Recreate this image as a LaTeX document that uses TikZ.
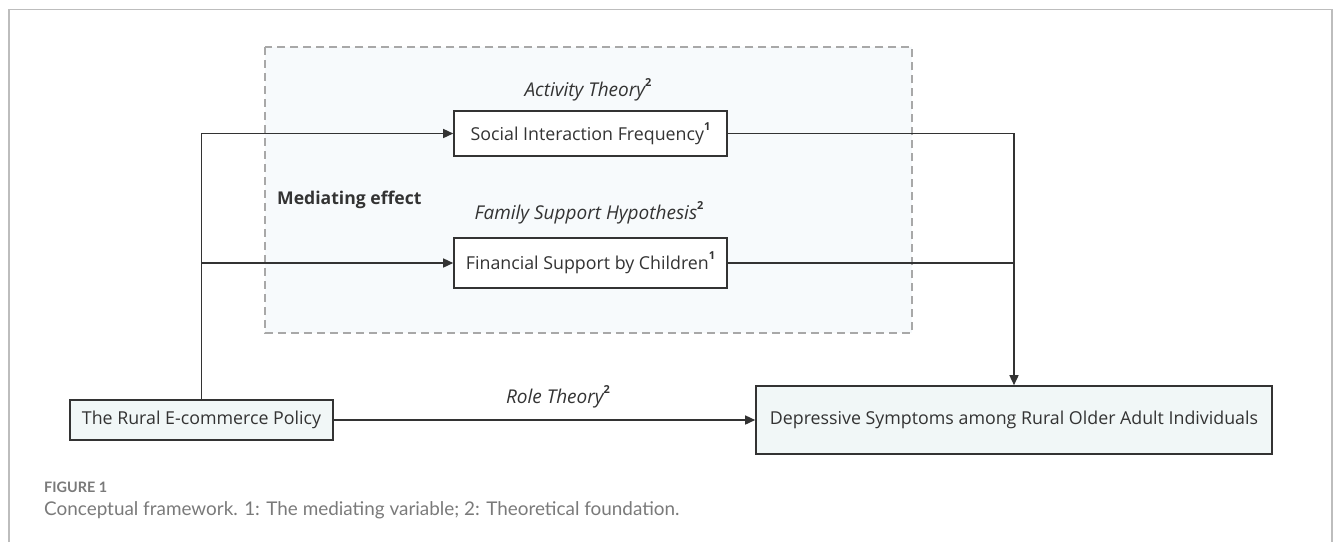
\documentclass[tikz,border=0pt]{standalone}
\usepackage{fontspec}
\setmainfont{Open Sans}
\newfontfamily\capfont{Lato}
\usetikzlibrary{arrows.meta}
\definecolor{lineC}{HTML}{333333}
\definecolor{dashC}{HTML}{A8A8A8}
\definecolor{frameC}{HTML}{BDBDBD}
\definecolor{medFill}{HTML}{F7FAFC}
\definecolor{keyFill}{HTML}{F1F7F7}
\definecolor{capC}{HTML}{7A7A7A}
\newcommand{\supnum}[1]{\raisebox{0.55em}{\upshape\bfseries\fontsize{11}{11}\selectfont #1}}
\tikzset{
  x=1pt, y=-1pt,
  varbox/.style={draw=lineC, line width=1.6pt, fill=white, inner sep=0pt, align=center, text=lineC, font=\fontsize{17.8}{20}\selectfont},
  keybox/.style={varbox, fill=keyFill},
  conn/.style={draw=lineC, line width=1.5pt},
  arr/.style={conn, -{Triangle[length=10pt,width=9pt]}},
  theory/.style={font=\fontsize{19}{22}\selectfont\itshape, inner sep=0pt, text=lineC},
}
\begin{document}
\begin{tikzpicture}
\useasboundingbox (0,0) rectangle (1333,542);
% outer frame
\draw[frameC, line width=1.2pt] (9,542) -- (9,9.5) -- (1332,9.5) -- (1332,542);
% mediating region
\draw[dashC, fill=medFill, line width=1.2pt, dash pattern=on 8pt off 5pt] (265,47) rectangle (912,333);
\node[anchor=west, font=\fontsize{17.6}{20}\selectfont\bfseries, inner sep=0pt, text=lineC] (med) at (277,200) {Mediating effect};
% nodes
\node[varbox, minimum width=273pt, minimum height=45pt] (soc) at (590.5,133.5) {Social Interaction Frequency\supnum{1}};
\node[varbox, minimum width=273pt, minimum height=50pt] (fin) at (590.5,263) {Financial Support by Children\supnum{1}};
\node[keybox, minimum width=263pt, minimum height=40pt] (pol) at (201.5,420) {The Rural E-commerce Policy};
\node[keybox, minimum width=516pt, minimum height=68pt] (dep) at (1014,420) {Depressive Symptoms among Rural Older Adult Individuals};
% theory labels
\node[theory] (act) at (588,90) {Activity Theory\supnum{2}};
\node[theory] (fam) at (589,213) {Family Support Hypothesis\supnum{2}};
\node[theory] (role) at (558,397) {Role Theory\supnum{2}};
% connectors
\coordinate (lt) at (pol.north |- soc.west);
\coordinate (lf) at (pol.north |- fin.west);
\coordinate (rt) at (dep.north |- soc.east);
\coordinate (rf) at (dep.north |- fin.east);
\draw[arr] (pol.north) -- (lt) -- (soc.west);
\draw[arr] (lf) -- (fin.west);
\draw[arr] (soc.east) -- (rt) -- (dep.north);
\draw[conn] (fin.east) -- (rf);
\draw[arr] (pol.east) -- (dep.west);
% caption
\node[anchor=west, inner sep=0pt, text=capC, font=\capfont\bfseries\fontsize{14.4}{16}\selectfont] (figl) at (44,487) {FIGURE 1};
\node[anchor=west, inner sep=0pt, text=capC, font=\capfont\fontsize{18.9}{22}\selectfont] (cap) at (44,510) {Conceptual framework. 1: The mediating variable; 2: Theoretical foundation.};
\end{tikzpicture}
\end{document}
